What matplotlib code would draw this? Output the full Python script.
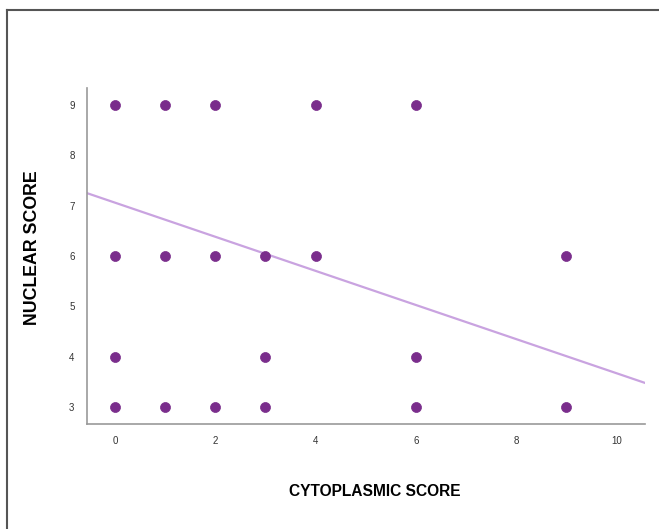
import numpy as np
import matplotlib.pyplot as plt
from matplotlib.lines import Line2D

# scores
cyto = [0, 1, 2, 4, 6, 0, 1, 2, 3, 4, 9, 0, 3, 6, 0, 1, 2, 3, 6, 9]
nuclear = [9, 9, 9, 9, 9, 6, 6, 6, 6, 6, 6, 4, 4, 4, 3, 3, 3, 3, 3, 3]

# fit line (intercept, slope) as drawn in the reference
fit_intercept = 7.06
fit_slope = -0.339

xticks = [0, 2, 4, 6, 8, 10]
yticks = [3, 4, 5, 6, 7, 8, 9]

plt.rcParams['font.family'] = ['Liberation Sans', 'DejaVu Sans']

fig = plt.figure(figsize=(6.59, 5.29), dpi=100)
ax = fig.add_axes([87 / 659, 1 - 424 / 529, (645 - 87) / 659, (424 - 88) / 529])

xlim = (-0.56, 10.57)
ax.set_xlim(xlim)
ax.set_ylim(2.66, 9.34)

xs = np.array(xlim)
ax.plot(xs, fit_intercept + fit_slope * xs, color='#c9a3e0', lw=1.6, zorder=2)
ax.scatter(cyto, nuclear, s=52, color='#7a2d8c', edgecolors='#7a2d8c',
           linewidths=0.5, zorder=3)

ax.set_xticks(xticks)
ax.set_yticks(yticks)
ax.tick_params(length=0, labelsize=7, colors='#333333', pad=9)
for s in ['top', 'right']:
    ax.spines[s].set_visible(False)
for s in ['left', 'bottom']:
    ax.spines[s].set_color('#999999')
    ax.spines[s].set_linewidth(1.2)

fig.text(375 / 659, 1 - 491 / 529, 'CYTOPLASMIC SCORE', ha='center', va='center',
         fontsize=11.2, fontweight='bold')
fig.text(33 / 659, 1 - 248 / 529, 'NUCLEAR SCORE', ha='center', va='center',
         rotation=90, fontsize=12.8, fontweight='bold')

# outer frame (top and left edges only visible)
fig.add_artist(Line2D([7 / 659, 1], [1 - 10 / 529] * 2, color='#555555', lw=1.5))
fig.add_artist(Line2D([7 / 659] * 2, [0, 1 - 10 / 529], color='#555555', lw=1.5))

fig.savefig('out.png', dpi=100)
